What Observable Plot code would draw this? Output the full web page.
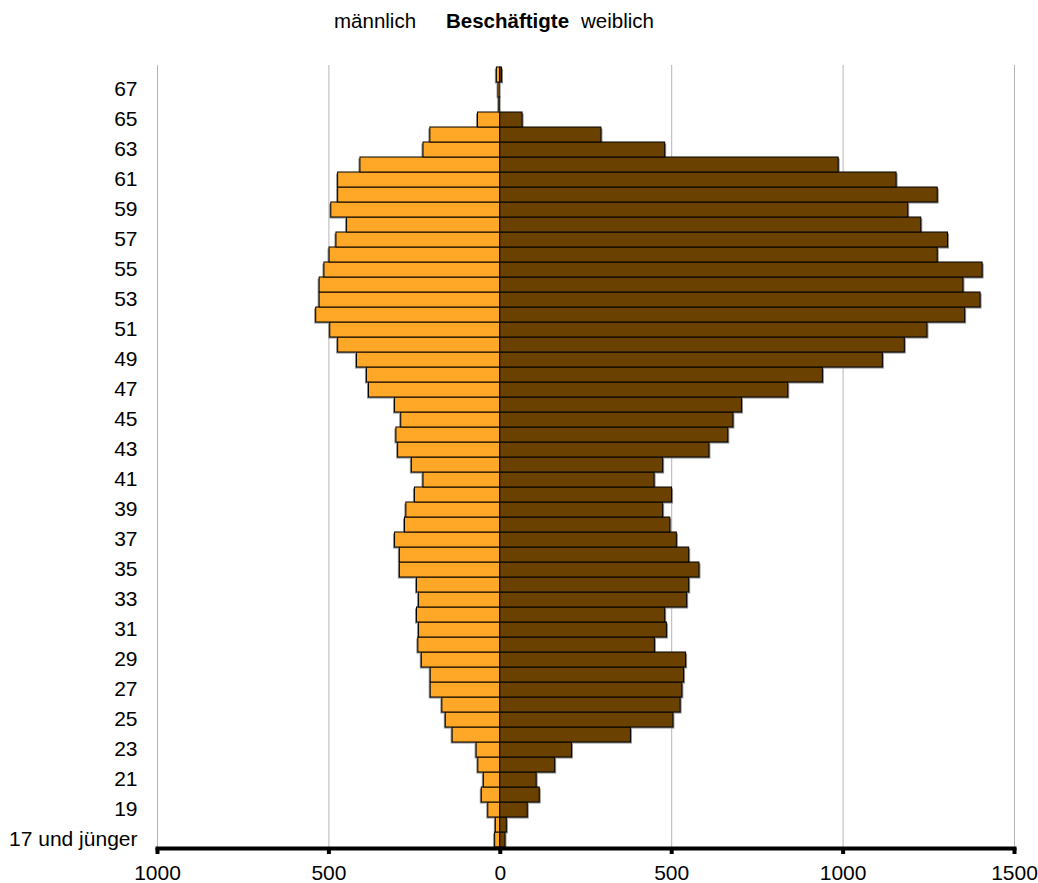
<!DOCTYPE html>
<html>
<head>
<meta charset="utf-8">
<script src="https://cdn.jsdelivr.net/npm/d3@7"></script>
<script src="https://cdn.jsdelivr.net/npm/@observablehq/plot@0.6"></script>
<style>
  body { margin: 0; background: #fff; font-family: "Liberation Sans", Arial, sans-serif; }
  #head { position: relative; width: 1038px; height: 40px; font-size: 20.5px; line-height: 20px; color: #000; }
  #head span { position: absolute; top: 11px; white-space: nowrap; }
</style>
</head>
<body>
<div id="head">
  <span style="left:334px">männlich</span>
  <span style="left:446px;font-weight:bold">Beschäftigte</span>
  <span style="left:581px">weiblich</span>
</div>
<div id="chart"></div>
<script>
const ages = ["17 und jünger","18","19","20","21","22","23","24","25","26","27","28","29","30",
  "31","32","33","34","35","36","37","38","39","40","41","42","43","44","45","46","47","48","49",
  "50","51","52","53","54","55","56","57","58","59","60","61","62","63","64","65","66","67","68"];

const maennlich = [15,13,35,54,48,64,69,139,159,169,203,203,229,239,
  237,243,237,243,293,293,307,278,274,249,224,258,298,303,289,307,383,389,418,
  473,496,537,527,527,513,498,478,447,493,473,473,408,224,204,65,3,5,10];

const weiblich = [15,19,80,115,106,160,209,381,505,526,531,536,542,451,
  486,481,545,551,581,551,515,496,475,501,450,475,610,665,680,705,840,941,1116,
  1180,1246,1356,1401,1351,1407,1276,1306,1228,1190,1276,1156,987,481,295,65,0,0,5];

const yTickLabels = ["17 und jünger","19","21","23","25","27","29","31","33","35","37","39",
  "41","43","45","47","49","51","53","55","57","59","61","63","65","67"];
const xTicks = [-1000, -500, 0, 500, 1000, 1500];
const gridTicks = [-1000, -500, 500, 1000, 1500];

const orange = "#FFA726";
const brown = "#6B4100";

const data = ages.map((a, i) => ({age: a, m: maennlich[i], w: weiblich[i]}));

const chart = Plot.plot({
  width: 1038,
  height: 843,
  marginTop: 25,
  marginBottom: 35,
  marginLeft: 157,
  marginRight: 24,
  x: {domain: [-1000, 1500]},
  y: {domain: ages.slice().reverse(), padding: 0},
  style: {fontFamily: "'Liberation Sans', Arial, sans-serif", fontSize: "21px", color: "#000", background: "#fff"},
  marks: [
    Plot.gridX(gridTicks, {stroke: "#b5b5b5", strokeOpacity: 1, strokeWidth: 1}),
    Plot.barX(data, {y: "age", x1: 0, x2: d => -d.m, fill: "#8a8a8a", dx: -1.5, dy: 1.5}),
    Plot.barX(data, {y: "age", x1: 0, x2: "w", fill: "#8a8a8a", dx: 1.5, dy: 1.5}),
    Plot.barX(data, {y: "age", x1: 0, x2: d => -d.m, fill: orange, stroke: "#000", strokeWidth: 1}),
    Plot.barX(data, {y: "age", x1: 0, x2: "w", fill: brown, stroke: "#000", strokeWidth: 1}),
    Plot.frame({anchor: "bottom", stroke: "#000", strokeWidth: 4}),
    Plot.axisX({ticks: xTicks, tickFormat: d => String(Math.abs(d)), tickSize: 6, tickPadding: 11,
      strokeWidth: 4, fontSize: 21, label: null}),
    Plot.axisY({ticks: yTickLabels, tickSize: 0, tickPadding: 20, fontSize: 21, label: null, dy: -1})
  ]
});
document.getElementById("chart").appendChild(chart);
</script>
</body>
</html>
